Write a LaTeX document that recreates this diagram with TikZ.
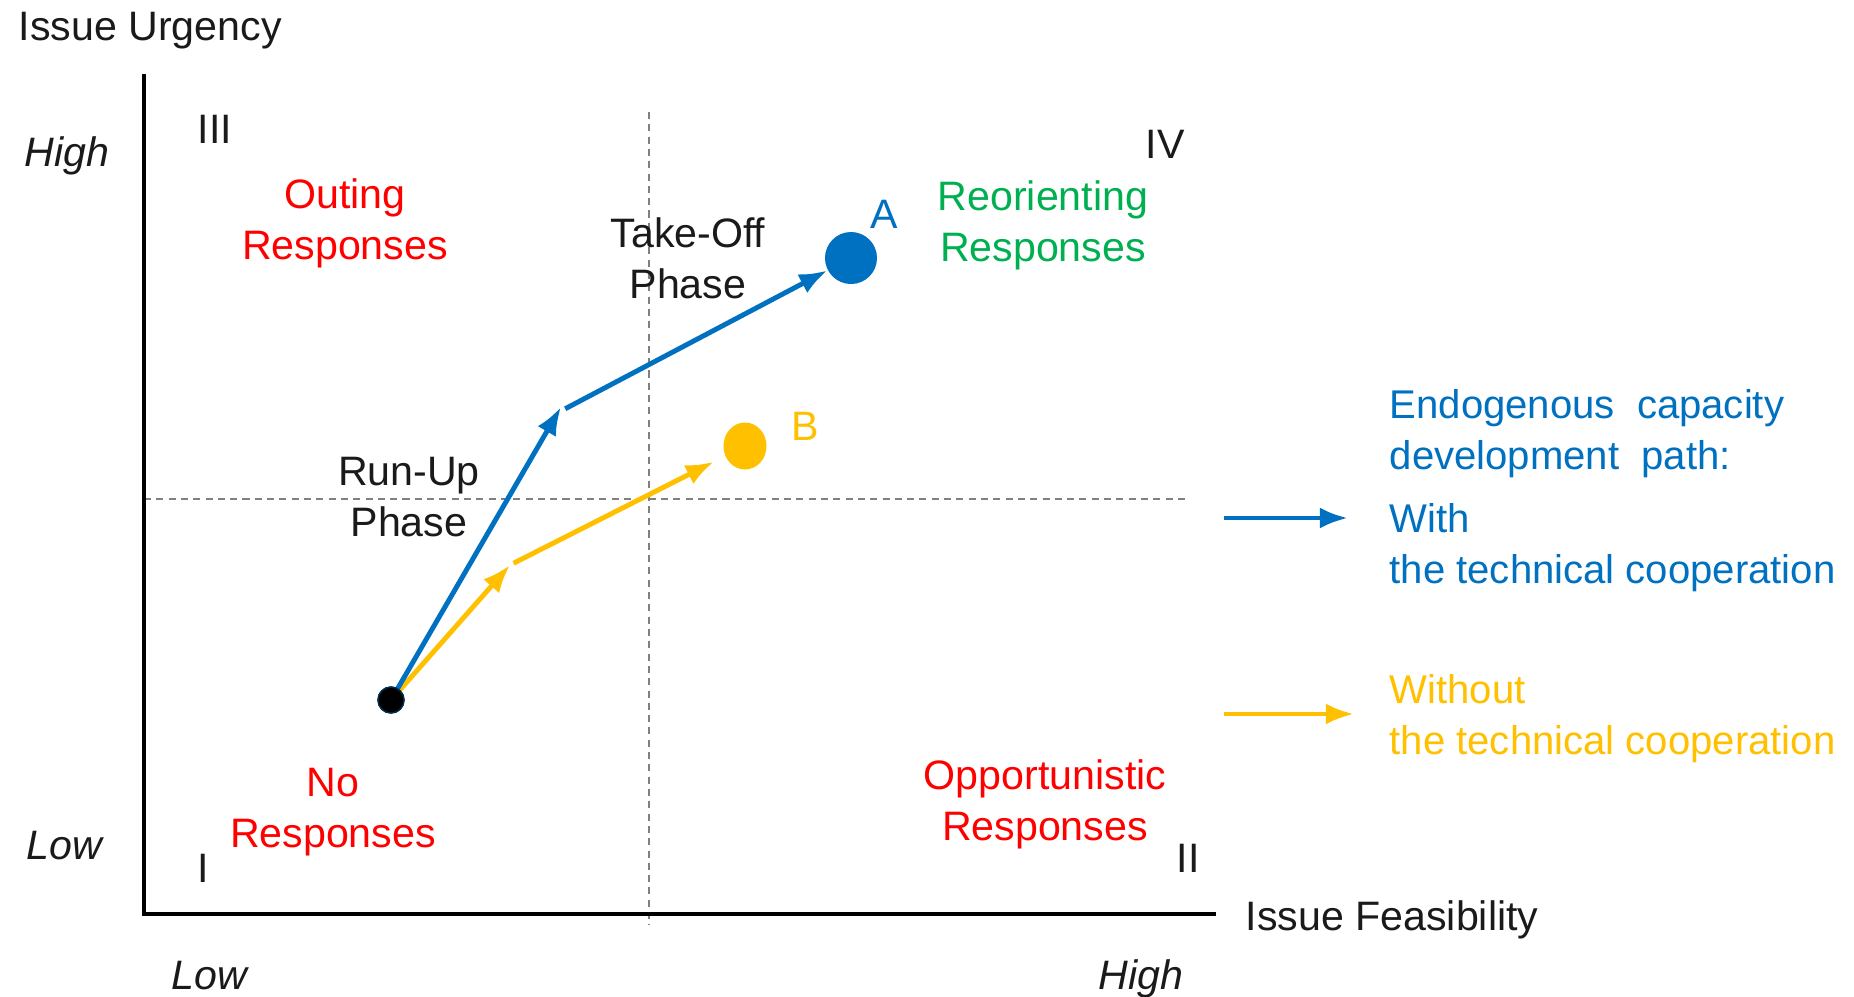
\documentclass[tikz,border=0pt]{standalone}
\usepackage{fontspec}
\setmainfont{Liberation Sans}
\usetikzlibrary{arrows.meta,shapes.geometric}
\definecolor{pathblue}{HTML}{0070C0}
\definecolor{pathgold}{HTML}{FFC000}
\definecolor{respred}{HTML}{FF0000}
\definecolor{respgreen}{HTML}{00B050}
\definecolor{inkgray}{HTML}{1A1A1A}
\tikzset{
    lbl/.style={font=\fontsize{11.7}{14.5}\selectfont,text=inkgray,inner sep=0pt,align=center},
    lvl/.style={lbl,font=\fontsize{11.7}{14.5}\selectfont\itshape},
    resp/.style={lbl,text=respred},
    legtext/.style={lbl,anchor=west,align=left,font=\fontsize{11.4}{14.5}\selectfont},
    grid/.style={draw=gray,line width=0.4pt,dash pattern=on 2pt off 1.5pt},
    path/.style={line width=1.4pt,-{Latex[length=8pt,width=6pt]}},
}
\begin{document}
\begin{tikzpicture}[x=0.01cm,y=-0.01cm]
    \useasboundingbox (0,0) rectangle (1854,996);
    % axes
    \coordinate (orig) at (144,914);
    \coordinate (ytop) at (144,74);
    \coordinate (xend) at (1216,914);
    \draw[grid] (649,112) -- (649,925);
    \draw[grid] (144,499) -- (1188,499);
    \draw[line width=1.2pt] (ytop) -- (orig) -- (xend);
    \node[lbl,anchor=west] (yname) at (18,31) {Issue Urgency};
    \node[lbl,anchor=west] (xname) at (1245,920) {Issue Feasibility};
    \node[lvl] (yhigh) at (67,156) {High};
    \node[lvl] (ylow) at (64,846) {Low};
    \node[lvl] (xlow) at (209,976) {Low};
    \node[lvl] (xhigh) at (1141,979) {High};
    % quadrants
    \node[lbl] (q3) at (215,129) {III};
    \node[lbl] (q4) at (1165,144) {IV};
    \node[lbl] (q1) at (203,868) {I};
    \node[lbl] (q2) at (1188,858) {II};
    \node[resp] (outing) at (345,223) {Outing\\Responses};
    \node[lbl,text=respgreen] (reorient) at (1043,225) {Reorienting\\Responses};
    \node[resp] (noresp) at (333,812) {No\\Responses};
    \node[resp] (opport) at (1045,804) {Opportunistic\\Responses};
    \node[lbl] (takeoff) at (688,258) {Take-Off\\Phase};
    \node[lbl] (runup) at (409,497) {Run-Up\\Phase};
    % points and paths
    \node[circle,fill=black,draw=pathblue!40!black,minimum size=0.26cm,inner sep=0pt] (start) at (391,700) {};
    \node[circle,fill=pathblue,minimum size=0.52cm,inner sep=0pt] (ptA) at (851,258) {};
    \node[ellipse,fill=pathgold,minimum width=0.43cm,minimum height=0.47cm,inner sep=0pt] (ptB) at (745,446) {};
    \node[lbl,text=pathblue] (labA) at (884,214) {A};
    \node[lbl,text=pathgold] (labB) at (805,426) {B};
    \coordinate (kinkA) at (561,407);
    \coordinate (kinkB) at (510,565);
    \draw[path,draw=pathgold,fill=pathgold] (start.center) -- (kinkB);
    \draw[path,draw=pathgold,fill=pathgold,shorten >=3.5pt] ([xshift=1pt,yshift=0.5pt]kinkB) -- (ptB);
    \draw[path,draw=pathblue,fill=pathblue] (start.center) -- (kinkA);
    \draw[path,draw=pathblue,fill=pathblue] ([xshift=1.2pt,yshift=-0.5pt]kinkA) -- (ptA);
    \node[circle,fill=black,draw=pathblue!40!black,minimum size=0.26cm,inner sep=0pt] at (start) {};
    % legend
    \node[legtext,text=pathblue] (legtitle) at (1389,434) {Endogenous \ capacity\\development \ path:};
    \node[legtext,text=pathblue] (legwith) at (1389,548) {With\\the technical cooperation};
    \node[legtext,text=pathgold] (legwithout) at (1389,719) {Without\\the technical cooperation};
    \coordinate (lw1) at (1224,518);
    \coordinate (lw2) at (1348,518);
    \coordinate (lo1) at (1224,714);
    \coordinate (lo2) at (1354,714);
    \draw[path,draw=pathblue,fill=pathblue] (lw1) -- (lw2);
    \draw[path,draw=pathgold,fill=pathgold] (lo1) -- (lo2);
\end{tikzpicture}
\end{document}
